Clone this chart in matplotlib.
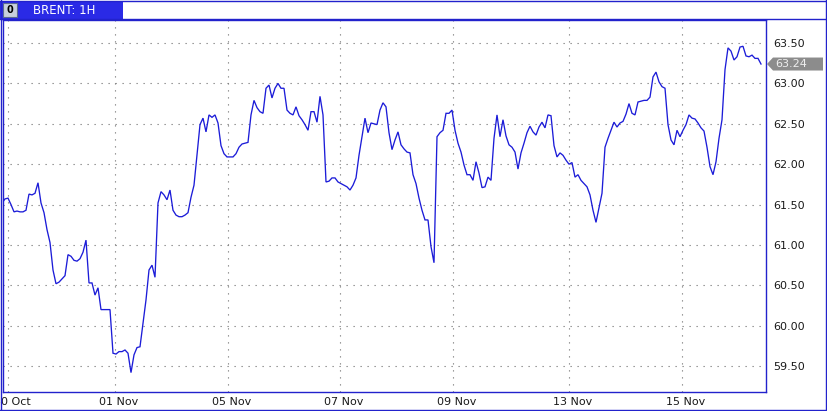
import matplotlib
matplotlib.use('Agg')
import matplotlib.pyplot as plt
import matplotlib.patches as mpatches
import matplotlib.transforms as mtrans
from matplotlib.lines import Line2D
import numpy as np

# ---------------- data ----------------
symbol_title = "BRENT: 1H"
last_price = 63.24

brent_close = [
    61.52, 61.57, 61.58, 61.50, 61.41, 61.42, 61.41, 61.41, 61.43, 61.63,
    61.62, 61.64, 61.77, 61.52, 61.40, 61.19, 61.03, 60.69, 60.52, 60.54,
    60.58, 60.62, 60.88, 60.86, 60.81, 60.80, 60.83, 60.91, 61.06, 60.53,
    60.53, 60.38, 60.47, 60.20, 60.20, 60.20, 60.20, 59.66, 59.65, 59.68,
    59.68, 59.70, 59.66, 59.42, 59.64, 59.73, 59.74, 60.03, 60.32, 60.69,
    60.75, 60.60, 61.52, 61.66, 61.62, 61.56, 61.68, 61.43, 61.37, 61.35,
    61.35, 61.37, 61.40, 61.59, 61.74, 62.11, 62.49, 62.57, 62.40, 62.61,
    62.58, 62.61, 62.51, 62.23, 62.13, 62.09, 62.09, 62.09, 62.13, 62.21,
    62.25, 62.26, 62.27, 62.61, 62.79, 62.70, 62.65, 62.63, 62.94, 62.98,
    62.82, 62.94, 63.00, 62.94, 62.94, 62.67, 62.63, 62.61, 62.71, 62.60,
    62.55, 62.49, 62.42, 62.65, 62.65, 62.52, 62.84, 62.61, 61.78, 61.79,
    61.83, 61.83, 61.78, 61.76, 61.74, 61.72, 61.68, 61.74, 61.83, 62.11,
    62.34, 62.57, 62.39, 62.51, 62.50, 62.49, 62.67, 62.76, 62.71, 62.39,
    62.18, 62.30, 62.40, 62.24, 62.19, 62.15, 62.14, 61.87, 61.76, 61.58,
    61.43, 61.31, 61.31, 60.98, 60.78, 62.34, 62.39, 62.42, 62.63, 62.63,
    62.67, 62.42, 62.26, 62.15, 61.99, 61.87, 61.87, 61.80, 62.03, 61.89,
    61.71, 61.72, 61.84, 61.80, 62.32, 62.61, 62.34, 62.55, 62.35, 62.24,
    62.21, 62.15, 61.94, 62.14, 62.26, 62.39, 62.47, 62.40, 62.36, 62.46,
    62.52, 62.45, 62.61, 62.60, 62.23, 62.09, 62.14, 62.11, 62.05, 62.00,
    62.02, 61.84, 61.87, 61.80, 61.76, 61.72, 61.62, 61.43, 61.28, 61.46,
    61.64, 62.21, 62.32, 62.42, 62.52, 62.46, 62.51, 62.53, 62.62, 62.75,
    62.63, 62.61, 62.77, 62.78, 62.79, 62.79, 62.83, 63.08, 63.14, 63.02,
    62.96, 62.94, 62.49, 62.30, 62.24, 62.42, 62.34, 62.42, 62.49, 62.61,
    62.57, 62.56, 62.51, 62.45, 62.41, 62.21, 61.97, 61.87, 62.03, 62.32,
    62.55, 63.17, 63.44, 63.40, 63.29, 63.33, 63.45, 63.46, 63.34, 63.33,
    63.35, 63.31, 63.31, 63.24,
]

date_labels = ["30 Oct", "01 Nov", "05 Nov", "07 Nov", "09 Nov", "13 Nov", "15 Nov"]
date_bars = [2.0, 37.7, 75.2, 112.7, 150.2, 189.0, 226.6]
price_ticks = [59.5, 60.0, 60.5, 61.0, 61.5, 62.0, 62.5, 63.0, 63.5]

# ---------------- style ----------------
W, H = 828, 411
FRAME = '#2222cc'
LINE = '#1c1cd8'
HEADER = '#2a2ae6'
GRID = '#7a7a7a'


def fx(x):
    return x / W


def fy(y):
    return 1 - y / H


fig = plt.figure(figsize=(W / 100, H / 100), dpi=100)
fig.patch.set_facecolor('white')

ax = fig.add_axes([fx(3), fy(392), (766 - 3) / W, (392 - 20) / H])
bars = np.arange(len(brent_close))
ax.plot(bars, brent_close, color=LINE, lw=0.95, solid_joinstyle='miter', zorder=3)
ax.set_xlim(1 / 3, 764 / 3)
ax.set_ylim(59.18, 63.785)

ax.set_yticks(price_ticks)
ax.set_yticklabels([f"{v:.2f}" for v in price_ticks])
ax.set_xticks(date_bars)
ax.set_xticklabels(date_labels)
ax.grid(True, color=GRID, linestyle=(0, (1.1, 5.2)), lw=0.8)
ax.yaxis.tick_right()
ax.tick_params(axis='y', length=0, pad=5, labelsize=8, labelcolor='#1a1a1a')
ax.tick_params(axis='x', length=0, pad=3.5, labelsize=8, labelcolor='#1a1a1a')
for sp in ax.spines.values():
    sp.set_color(FRAME)
    sp.set_linewidth(1.0)

# shift date labels slightly right, like the reference (first one is cut by the edge there too)
off = mtrans.ScaledTranslation(4 / 100, 0, fig.dpi_scale_trans)
for lab in ax.get_xticklabels():
    lab.set_transform(lab.get_transform() + off)

# ---------------- header & outer frame ----------------
fig.add_artist(mpatches.Rectangle((fx(0), fy(19)), fx(123), 17 / H,
                                  transform=fig.transFigure, facecolor=HEADER,
                                  edgecolor='none', zorder=5))
fig.add_artist(mpatches.Rectangle((fx(3), fy(17)), 14 / W, 14 / H,
                                  transform=fig.transFigure, facecolor='#c8d0dc',
                                  edgecolor='#5a6a90', lw=0.8, zorder=6))
fig.text(fx(10), fy(10), "0", color='black', fontsize=7, fontweight='bold',
         ha='center', va='center', zorder=7)
fig.text(fx(33), fy(10.5), symbol_title, color='white', fontsize=8.5,
         ha='left', va='center', zorder=7)
for y in (1.5, 19.5, 409.5):
    fig.add_artist(Line2D([0, 1], [fy(y), fy(y)], transform=fig.transFigure,
                          color=FRAME, lw=1.0, zorder=6))
fig.add_artist(Line2D([fx(1), fx(1)], [0, 1], transform=fig.transFigure,
                      color=FRAME, lw=1.0, zorder=6))
fig.add_artist(Line2D([fx(826.5), fx(826.5)], [0, 1], transform=fig.transFigure,
                      color=FRAME, lw=1.0, zorder=6))

# ---------------- last price marker ----------------
fig.canvas.draw()
_, yd = ax.transData.transform((0, last_price))
xr = ax.transAxes.transform((1, 0))[0]
poly = [(xr + 1, yd), (xr + 7, yd + 6.5), (xr + 57, yd + 6.5),
        (xr + 57, yd - 6.5), (xr + 7, yd - 6.5)]
fig.add_artist(mpatches.Polygon(poly, closed=True, transform=mtrans.IdentityTransform(),
                                facecolor='#8c8c8c', edgecolor='none', zorder=8))
fig.text(xr + 9, yd, f"{last_price:.2f}", transform=mtrans.IdentityTransform(),
         color='#eeeeee', fontsize=8, ha='left', va='center', zorder=9)

fig.savefig('out.png', dpi=100, facecolor='white')
